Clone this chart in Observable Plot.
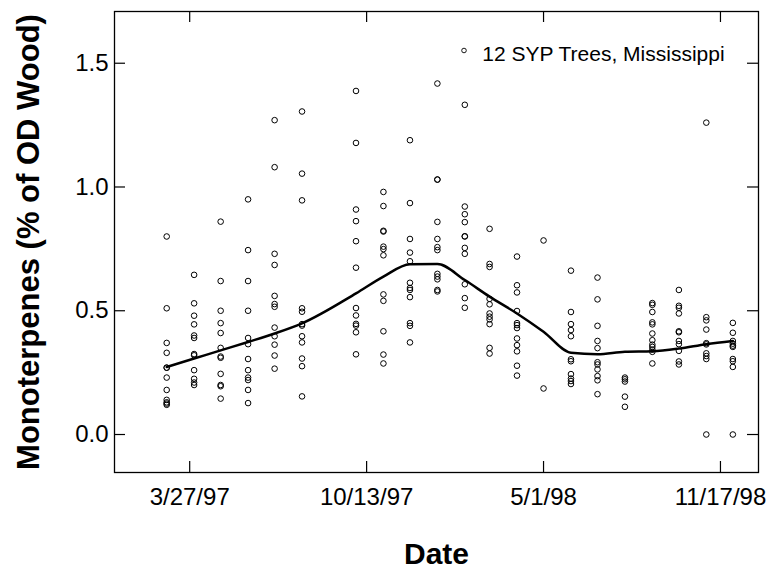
<!DOCTYPE html>
<html><head><meta charset="utf-8">
<script src="https://cdn.jsdelivr.net/npm/d3@7"></script>
<script src="https://cdn.jsdelivr.net/npm/@observablehq/plot@0.6"></script>
<style>body{margin:0;background:#fff} svg{display:block}</style>
</head><body><div id="chart"></div>
<script>
// Sampling dates (first of each month)
const sampleDates = [
  "1997-03-01","1997-04-01","1997-05-01","1997-06-01","1997-07-01","1997-08-01",
  "1997-10-01","1997-11-01","1997-12-01","1998-01-01","1998-02-01","1998-03-01",
  "1998-04-01","1998-05-01","1998-06-01","1998-07-01","1998-08-01","1998-09-01",
  "1998-10-01","1998-11-01","1998-12-01"
];
// Monoterpene content per tree (% of OD wood), one list per sampling date
const monoterpenes = [
  [0.80,0.51,0.37,0.33,0.27,0.27,0.23,0.18,0.14,0.13,0.125,0.12],
  [0.645,0.53,0.48,0.445,0.40,0.39,0.325,0.32,0.26,0.225,0.21,0.20],
  [0.86,0.62,0.50,0.45,0.41,0.35,0.315,0.31,0.245,0.20,0.195,0.145],
  [0.95,0.745,0.62,0.50,0.39,0.365,0.305,0.26,0.23,0.22,0.18,0.127],
  [1.27,1.08,0.73,0.685,0.56,0.527,0.516,0.432,0.397,0.363,0.319,0.266],
  [1.305,1.054,0.946,0.51,0.496,0.446,0.44,0.397,0.372,0.307,0.276,0.154],
  [1.388,1.178,0.909,0.862,0.781,0.674,0.511,0.481,0.447,0.44,0.413,0.324],
  [0.98,0.923,0.823,0.82,0.759,0.749,0.724,0.566,0.54,0.417,0.323,0.287],
  [1.189,0.935,0.79,0.735,0.70,0.613,0.592,0.584,0.555,0.45,0.439,0.372],
  [1.418,1.03,1.03,0.859,0.79,0.757,0.745,0.649,0.638,0.627,0.584,0.578],
  [1.332,0.921,0.89,0.858,0.801,0.80,0.754,0.73,0.607,0.551,0.512],
  [0.831,0.689,0.677,0.548,0.526,0.489,0.476,0.465,0.446,0.35,0.327],
  [0.719,0.603,0.574,0.499,0.45,0.442,0.43,0.388,0.361,0.336,0.278,0.238],
  [0.784,0.186],
  [0.662,0.495,0.446,0.422,0.397,0.304,0.296,0.244,0.226,0.216,0.204],
  [0.634,0.546,0.439,0.378,0.349,0.292,0.283,0.263,0.236,0.219,0.163],
  [0.23,0.223,0.214,0.153,0.112],
  [0.531,0.524,0.495,0.453,0.445,0.408,0.381,0.363,0.354,0.343,0.334,0.287],
  [0.584,0.52,0.512,0.489,0.417,0.413,0.378,0.365,0.338,0.295,0.283],
  [1.26,0.474,0.461,0.424,0.369,0.364,0.328,0.317,0.305,0.0],
  [0.451,0.411,0.378,0.367,0.359,0.354,0.305,0.296,0.273,0.0]
];
// Smoothed trend value at each sampling date
const smoothFit = [
  0.273,0.307,0.340,0.374,0.408,0.449,
  0.570,0.638,0.688,0.689,0.624,0.557,
  0.489,0.415,0.330,0.324,0.334,0.336,
  0.347,0.365,0.378
];
const xTickDates = ["1997-03-27","1997-10-13","1998-05-01","1998-11-17"];
const xDomain = ["1997-01-01","1998-12-30"];
const yTicks = [0, 0.5, 1.0, 1.5];
const yDomain = [-0.1535, 1.709];
const legendText = "12 SYP Trees, Mississippi";
const yTitle = "Monoterpenes (% of OD Wood)";
const xTitle = "Date";

const parse = d3.utcParse("%Y-%m-%d");
const points = sampleDates.flatMap((d, i) => monoterpenes[i].map(v => ({date: parse(d), value: v})));
const fit = sampleDates.map((d, i) => ({date: parse(d), value: smoothFit[i]}));
const xt = xTickDates.map(parse);

const W = 775, H = 575, mL = 114, mR = 17, mT = 11, mB = 103;
const fw = W - mL - mR, fh = H - mT - mB;
const tick = 11;

const chart = Plot.plot({
  width: W, height: H,
  marginLeft: mL, marginRight: mR, marginTop: mT, marginBottom: mB,
  style: {fontFamily: "'Liberation Sans', Arial, sans-serif", background: "white", color: "black", overflow: "visible"},
  x: {type: "utc", domain: xDomain.map(parse)},
  y: {domain: yDomain},
  marks: [
    Plot.frame({stroke: "black", strokeWidth: 1.3}),
    Plot.tickX(xt, {x: d => d, insetTop: fh - tick, stroke: "black", strokeWidth: 1.2}),
    Plot.tickX(xt, {x: d => d, insetBottom: fh - tick, stroke: "black", strokeWidth: 1.2}),
    Plot.tickY(yTicks, {y: d => d, insetRight: fw - tick, stroke: "black", strokeWidth: 1.2}),
    Plot.tickY(yTicks, {y: d => d, insetLeft: fw - tick, stroke: "black", strokeWidth: 1.2}),
    Plot.axisX(xt, {tickSize: 0, tickPadding: 15, fontSize: 24, tickFormat: d3.utcFormat("%-m/%-d/%y"), label: null}),
    Plot.axisY(yTicks, {tickSize: 0, tickPadding: 6, fontSize: 24, tickFormat: d3.format(".1f"), label: null}),
    Plot.dot(points, {x: "date", y: "value", r: 2.8, stroke: "black", strokeWidth: 1, fill: "none"}),
    Plot.line(fit, {x: "date", y: "value", stroke: "black", strokeWidth: 2.5, curve: "monotone-x"}),
    Plot.dot([legendText], {frameAnchor: "top-left", dx: 349.5, dy: 39, r: 2.3, stroke: "black", strokeWidth: 0.9, fill: "none"}),
    Plot.text([legendText], {frameAnchor: "top-left", dx: 367.7, dy: 43, textAnchor: "start", lineAnchor: "middle", fontSize: 21, text: d => d}),
    Plot.text([yTitle], {frameAnchor: "left", dx: -85, rotate: -90, textAnchor: "middle", lineAnchor: "middle", fontSize: 31, fontWeight: "bold", text: d => d}),
    Plot.text([xTitle], {frameAnchor: "bottom", dy: 82, textAnchor: "middle", lineAnchor: "middle", fontSize: 30, fontWeight: "bold", text: d => d})
  ]
});
document.getElementById("chart").appendChild(chart);
</script>
</body></html>
